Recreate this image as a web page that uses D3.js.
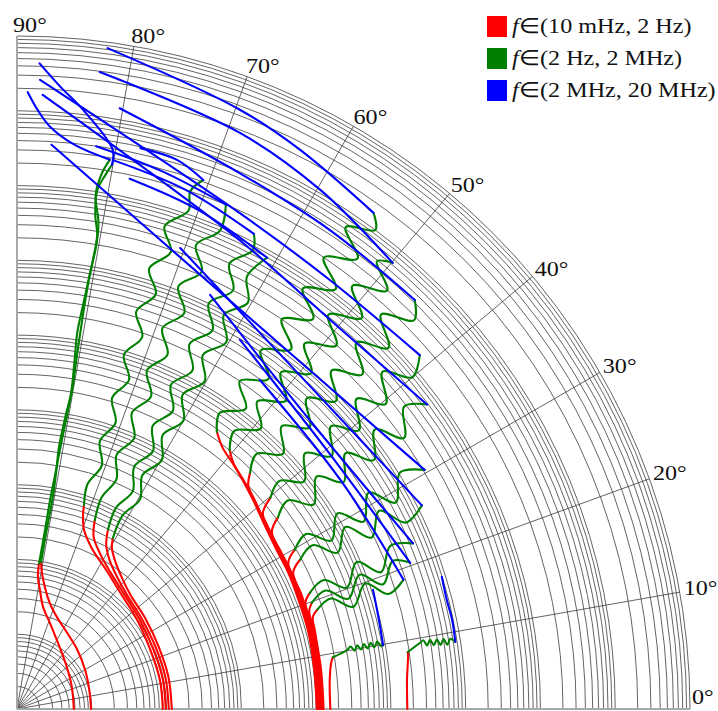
<!DOCTYPE html>
<html><head><meta charset="utf-8">
<script src="https://cdn.jsdelivr.net/npm/d3@7"></script>
<style>body{margin:0;background:#fff}svg{display:block}</style>
</head><body>
<script>
// Polar plot of phase (deg) against log10 |Z| (decades) for a family of sweeps.
const W = 718, H = 711;
const cx = 17, cy = 709, outerR = 673;
const decadeCount = 9;
const angleTicks = [0, 10, 20, 30, 40, 50, 60, 70, 80, 90];
const mantissas = [2, 3, 4, 5, 6, 7, 8, 9, 10];

const legendLabels = ["(10 mHz, 2 Hz)", "(2 Hz, 2 MHz)", "(2 MHz, 20 MHz)"];
const seriesColors = ["#ff0000", "#008000", "#0000ff"];

// Each point: [phase in degrees, log10 magnitude]
const redSeries = [
  [[0,0.76],[21.8,0.79],[40,0.87],[58.2,1.04],[69,1.23],[75.7,1.41],[79.1,1.62],[81,1.79],[81.4,1.97]],
  [[0,0.99],[14.8,1.0],[29.8,1.05],[44.5,1.13],[56.7,1.22],[66.5,1.34],[72.7,1.48],[77.1,1.67],[79.6,1.85],[80.7,1.99]],
  [[0,1.95],[11.5,1.95],[23.9,1.95],[36.6,2.0],[47.4,2.07],[57.4,2.21],[65,2.37],[69.5,2.56],[71.2,2.74],[71.8,2.87]],
  [[0,1.99],[12,1.99],[24,1.99],[36,2.03],[47,2.10],[56,2.22],[62,2.36],[66,2.52],[67.6,2.73]],
  [[0,2.03],[12,2.03],[24,2.03],[36,2.06],[46,2.12],[53,2.22],[58,2.34],[61.5,2.50],[63.1,2.69]],
  [[0,2.07],[12,2.07],[24,2.07],[35,2.10],[45,2.15],[51,2.24],[56,2.36],[59.5,2.50],[60.7,2.62]],
  [[0,4.01],[7.4,4.01],[15,4.03],[21.9,4.04],[27,4.06],[31.2,4.07],[36.2,4.12],[41.2,4.21],[45,4.29],[48.6,4.37],[51.9,4.45],[54.2,4.57]],
  [[0,4.02],[7.4,4.02],[15,4.04],[21.9,4.05],[27,4.07],[31.2,4.08],[36.2,4.13],[41.2,4.22],[45,4.30],[48.6,4.38],[50.6,4.48]],
  [[0,4.03],[7.4,4.03],[15,4.05],[21.9,4.06],[27,4.08],[31.2,4.09],[36.2,4.14],[41.2,4.23],[44,4.30],[45.4,4.44]],
  [[0,4.04],[7.4,4.04],[15,4.06],[21.9,4.07],[27,4.09],[31.2,4.10],[36.2,4.15],[38.5,4.20],[39.8,4.41]],
  [[0,4.05],[7.4,4.05],[15,4.07],[21.9,4.08],[27,4.10],[31.2,4.11],[34.8,4.15],[36.3,4.33]],
  [[0,4.06],[7.4,4.06],[15,4.08],[21.9,4.09],[28.3,4.12],[29.8,4.28]],
  [[0,4.07],[7.4,4.07],[15,4.09],[21.9,4.10],[26.3,4.12],[27.8,4.28]],
  [[0,4.08],[7.4,4.08],[15,4.10],[20.2,4.11],[21.6,4.21]],
  [[0,4.09],[7.4,4.09],[15,4.11],[18.5,4.12],[19.8,4.19]],
  [[0,4.10],[7.4,4.10],[15,4.12],[17.2,4.14],[18.3,4.23]],
  [[0,4.19],[5.3,4.20],[8.5,4.25],[9.3,4.28]],
  [[0,5.22],[4.25,5.23],[7.9,5.28],[8.3,5.28]]
];

const greenSeries = [
  [[81.4,1.97],[81.1,2.42],[81.0,2.83],[80.8,3.10],[80.6,3.51],[80.4,3.85],[80.2,4.33],[80.4,4.87],[80.5,5.37],[80.5,5.75],[80.4,6.09],[80.4,6.43],[81.0,6.69],[81.2,7.02],[80.6,7.24],[80.1,7.39]],
  [[80.7,1.99],[80.6,2.40],[80.4,2.85],[80.6,3.20],[80.9,3.55],[80.6,3.95],[80.3,4.30],[80.6,4.70],[80.9,5.10],[80.7,5.50],[80.5,5.90],[80.3,6.30],[80.5,6.60],[81.3,6.95],[81.0,7.25],[80.4,7.45]],
  [[71.8,2.87],[72.6,3.15],[70.8,3.45],[72.8,3.75],[71.0,4.05],[73.0,4.35],[71.2,4.65],[73.2,4.95],[71.4,5.25],[73.3,5.55],[71.5,5.85],[73.3,6.15],[71.4,6.45],[73.0,6.75],[71.0,7.05],[71.5,7.30],[70.6,7.50]],
  [[67.6,2.73],[68.2,3.05],[66.6,3.35],[68.6,3.65],[66.6,3.95],[68.8,4.25],[66.8,4.55],[69.0,4.85],[67.0,5.15],[69.1,5.45],[67.1,5.75],[69.1,6.05],[67.1,6.35],[68.9,6.65],[67.0,6.95],[67.5,7.30]],
  [[63.1,2.69],[63.8,3.00],[62.0,3.30],[64.2,3.60],[62.2,3.90],[64.4,4.20],[62.4,4.50],[64.6,4.80],[62.6,5.10],[64.7,5.40],[62.7,5.70],[64.7,6.00],[62.7,6.30],[64.5,6.60],[62.8,6.90],[63.5,7.10]],
  [[60.7,2.62],[61.4,2.95],[59.6,3.25],[61.8,3.55],[59.8,3.85],[62.0,4.15],[60.0,4.45],[62.2,4.75],[60.2,5.05],[62.3,5.35],[60.3,5.65],[62.3,5.95],[60.4,6.25],[62.0,6.55],[61.0,6.90]],
  [[54.2,4.57],[55.6,4.80],[52.7,5.05],[55.8,5.30],[52.7,5.55],[55.8,5.80],[52.7,6.05],[55.8,6.30],[52.8,6.55],[55.8,6.80],[52.8,7.05],[55.8,7.30],[52.9,7.55],[55.7,7.80],[53.2,8.00],[54.3,8.17]],
  [[50.6,4.48],[52.0,4.72],[49.0,4.97],[52.0,5.22],[48.9,5.47],[51.9,5.72],[48.8,5.97],[51.8,6.22],[48.7,6.47],[51.7,6.72],[48.6,6.97],[51.6,7.22],[48.5,7.47],[51.2,7.68],[49.9,7.80]],
  [[45.4,4.44],[46.8,4.68],[43.8,4.93],[46.9,5.18],[43.9,5.43],[47.0,5.68],[44.0,5.93],[47.1,6.18],[44.1,6.43],[47.2,6.68],[44.2,6.93],[47.3,7.18],[44.4,7.43],[45.8,7.63]],
  [[39.8,4.41],[41.0,4.65],[38.4,4.90],[41.6,5.15],[38.8,5.40],[42.0,5.65],[39.2,5.90],[42.4,6.15],[39.6,6.40],[42.7,6.65],[40.0,6.90],[41.3,7.17]],
  [[36.3,4.33],[37.6,4.57],[34.6,4.82],[37.8,5.07],[34.8,5.32],[37.9,5.57],[34.9,5.82],[38.0,6.07],[35.0,6.32],[38.0,6.57],[36.6,6.83]],
  [[29.8,4.28],[31.2,4.52],[28.2,4.77],[31.4,5.02],[28.4,5.27],[31.6,5.52],[28.6,5.77],[31.7,6.02],[30.4,6.32]],
  [[27.8,4.28],[29.0,4.52],[26.0,4.77],[29.0,5.02],[25.8,5.27],[28.7,5.52],[25.6,5.77],[26.7,6.06]],
  [[21.6,4.21],[22.8,4.45],[20.2,4.70],[23.4,4.95],[20.6,5.20],[23.6,5.45],[22.7,5.74]],
  [[19.8,4.19],[21.0,4.42],[18.4,4.67],[21.4,4.92],[18.8,5.17],[21.5,5.40],[20.4,5.61]],
  [[18.3,4.23],[19.4,4.45],[16.9,4.70],[19.8,4.95],[17.2,5.20],[18.5,5.45]],
  [[9.3,4.28],[10.1,4.48],[10.6,4.54],[9.8,4.58],[10.6,4.63],[9.8,4.67],[10.6,4.72],[9.8,4.76],[10.6,4.81],[9.8,4.85],[10.6,4.90],[9.8,4.94],[9.9,4.97]],
  [[8.3,5.28],[9.3,5.46],[9.6,5.51],[8.8,5.55],[9.5,5.60],[8.7,5.64],[9.4,5.69],[8.6,5.73],[9.3,5.78],[8.5,5.82],[9.2,5.87],[8.7,5.93]]
];

const blueSeries = [
  [[80.1,7.39],[80.3,7.59],[83.7,8.06],[86.0,8.34],[88.0,8.64]],
  [[80.4,7.45],[84.1,7.58],[86.75,7.80],[88.0,8.01],[89.0,8.25]],
  [[70.6,7.50],[73.8,7.65],[77.6,7.68]],
  [[67.5,7.30],[75,7.45],[82,7.60]],
  [[63.5,7.10],[72,7.30],[80,7.45]],
  [[61.0,6.90],[70,7.10],[78,7.25]],
  [[54.3,8.17],[63.1,8.38],[69.6,8.55],[82.2,8.92]],
  [[49.9,7.80],[59.7,8.04],[68.8,8.26],[82.6,8.59]],
  [[45.8,7.63],[56.8,7.65],[67.4,7.76],[80.3,8.15]],
  [[41.3,7.17],[53.9,7.10],[65.8,7.27],[87.9,8.42]],
  [[36.6,6.83],[51.2,6.68],[64.6,6.94],[87.6,8.22]],
  [[30.4,6.32],[60.9,6.12],[86.5,7.56]],
  [[26.7,6.06],[49.7,5.85],[70.5,6.54]],
  [[22.7,5.74],[44.6,5.50],[65.0,6.11]],
  [[20.4,5.61],[40,5.4],[58.9,5.77]],
  [[18.5,5.45],[35,5.3],[53.6,5.47]],
  [[9.9,4.97],[13.0,4.98],[16.2,5.00],[18.5,5.02]],
  [[8.7,5.93],[11.6,5.94],[14.2,5.93],[17.3,5.95]]
];

const fontFamily = "'Liberation Serif', 'Times New Roman', serif";
const textStretch = 1.15;

const svg = d3.select("body").append("svg").attr("width", W).attr("height", H);

const rScale = d3.scaleLinear().domain([0, decadeCount]).range([0, outerR]);
// phase 0 points right, 90 points up (lineRadial measures clockwise from 12 o'clock)
const aScale = d3.scaleLinear().domain([0, 90]).range([Math.PI / 2, 0]);

const plot = svg.append("g").attr("transform", `translate(${cx},${cy})`);

// concentric log-decade rings
const ringValues = [];
for (let n = 0; n < decadeCount; n++) mantissas.forEach(k => ringValues.push(n + Math.log10(k)));

const grid = plot.append("g");
grid.selectAll("path.ring").data(ringValues).join("path")
  .attr("class", "ring")
  .attr("d", v => { const p = d3.path(); const rr = rScale(v); p.moveTo(rr, 0); p.arc(0, 0, rr, 0, -Math.PI / 2, true); return p.toString(); })
  .attr("fill", "none").attr("stroke", "#3c3c3c").attr("stroke-width", 0.8);

// spokes
grid.selectAll("line.spoke").data(angleTicks.filter(t => t !== 0 && t !== 90)).join("line")
  .attr("class", "spoke")
  .attr("x1", 0).attr("y1", 0)
  .attr("x2", t => rScale(decadeCount) * Math.sin(aScale(t)))
  .attr("y2", t => -rScale(decadeCount) * Math.cos(aScale(t)))
  .attr("stroke", "#3c3c3c").attr("stroke-width", 0.8);

// the two bounding axes
grid.selectAll("line.axis").data([0, 90]).join("line")
  .attr("class", "axis")
  .attr("x1", 0).attr("y1", 0)
  .attr("x2", t => rScale(decadeCount) * Math.sin(aScale(t)))
  .attr("y2", t => -rScale(decadeCount) * Math.cos(aScale(t)))
  .attr("stroke", "#a8a8a8").attr("stroke-width", 2);

// angle labels, just outside the outer ring, kept inside the canvas
grid.selectAll("g.angle").data(angleTicks).join("g")
  .attr("class", "angle")
  .attr("transform", t => {
    const a = t * Math.PI / 180;
    const x = Math.min((outerR + 8) * Math.cos(a) - 4, W - cx - 26);
    const y = Math.min(-(outerR + 8) * Math.sin(a) - 3, H - cy - 14);
    return `translate(${x},${y}) scale(${textStretch},1)`;
  })
  .append("text")
  .attr("dy", "0.35em")
  .attr("font-family", fontFamily)
  .attr("font-size", 21)
  .attr("fill", "#111")
  .text(t => t + "°");

const line = d3.lineRadial()
  .angle(d => aScale(d[0]))
  .radius(d => rScale(d[1]))
  .curve(d3.curveCatmullRom.alpha(0.5));

const traces = plot.append("g").attr("fill", "none").attr("stroke-width", 2.1)
  .attr("stroke-linejoin", "round").attr("stroke-linecap", "round");

[redSeries, greenSeries, blueSeries].forEach((series, i) => {
  traces.append("g").attr("stroke", seriesColors[i])
    .selectAll("path").data(series).join("path").attr("d", line);
});

// legend
const legend = svg.append("g").attr("transform", "translate(487,16)");
legendLabels.forEach((lab, i) => {
  const row = legend.append("g").attr("transform", `translate(0,${i * 32})`);
  row.append("rect").attr("width", 20).attr("height", 21).attr("fill", seriesColors[i]);
  const t = row.append("g").attr("transform", `translate(25,17) scale(${textStretch},1)`)
    .append("text")
    .attr("font-family", fontFamily).attr("font-size", 21).attr("fill", "#111");
  t.append("tspan").attr("font-style", "italic").text("f");
  t.append("tspan").text("\u2208" + lab);
});
</script>
</body></html>
